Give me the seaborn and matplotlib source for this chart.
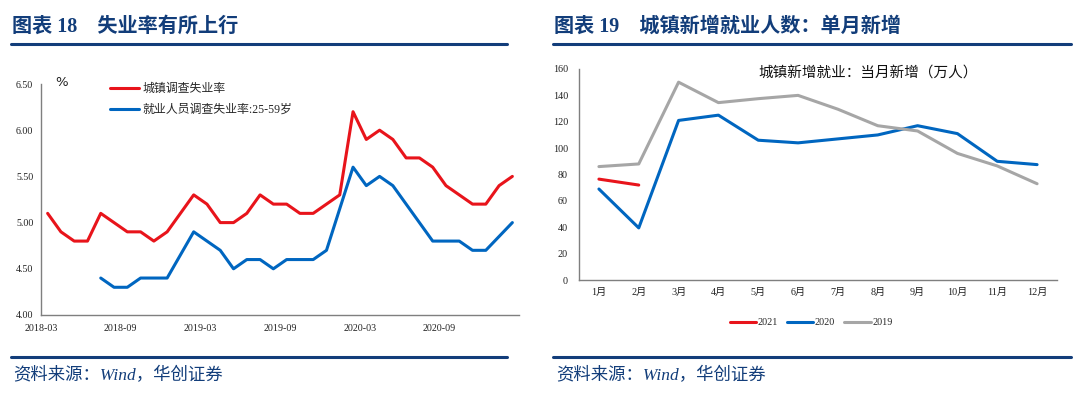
import numpy as np
import pandas as pd
import matplotlib
matplotlib.use('Agg')
import matplotlib.pyplot as plt
import seaborn as sns
from matplotlib.lines import Line2D
from matplotlib.font_manager import FontProperties

# ---------------- data ----------------
months_left = list(pd.period_range('2018-03', '2021-02', freq='M').strftime('%Y-%m'))
urban_rate = [5.1, 4.9, 4.8, 4.8, 5.1, 5.0, 4.9, 4.9, 4.8, 4.9, 5.1, 5.3,
              5.2, 5.0, 5.0, 5.1, 5.3, 5.2, 5.2, 5.1, 5.1, 5.2, 5.3, 6.2,
              5.9, 6.0, 5.9, 5.7, 5.7, 5.6, 5.4, 5.3, 5.2, 5.2, 5.4, 5.5]
rate_25_59 = [np.nan, np.nan, np.nan, np.nan,
              4.4, 4.3, 4.3, 4.4, 4.4, 4.4, 4.65, 4.9,
              4.8, 4.7, 4.5, 4.6, 4.6, 4.5, 4.6, 4.6, 4.6, 4.7, 5.15, 5.6,
              5.4, 5.5, 5.4, 5.2, 5.0, 4.8, 4.8, 4.8, 4.7, 4.7, 4.85, 5.0]
left_tick_labels = ['2018-03', '2018-09', '2019-03', '2019-09', '2020-03', '2020-09']
left_yticks = [4.0, 4.5, 5.0, 5.5, 6.0, 6.5]
left_series_names = ['城镇调查失业率', '就业人员调查失业率:25-59岁']

month_labels = ['1月', '2月', '3月', '4月', '5月', '6月',
                '7月', '8月', '9月', '10月', '11月', '12月']
jobs_2021 = [76.5, 72]
jobs_2020 = [69, 39.5, 121, 125, 106, 104, 107, 110, 117, 111, 90, 87.5]
jobs_2019 = [86, 88, 150, 134.5, 137.5, 140, 129.5, 117, 113, 96, 86.5, 73]
right_series_names = ['2021', '2020', '2019']
right_yticks = [0, 20, 40, 60, 80, 100, 120, 140, 160]

# ---------------- style ----------------
sns.set_style('white')
serif_cjk = ['Liberation Serif', 'Noto Sans CJK SC']
plt.rcParams['font.family'] = serif_cjk
plt.rcParams['axes.unicode_minus'] = False

RED = '#E8141B'
BLUE = '#0066C0'
GRAY = '#A6A6A6'
NAVY = '#123D7A'
SPINE = '#7F7F7F'

W, H = 1078, 394
fig = plt.figure(figsize=(W / 100, H / 100), dpi=100)


def fx(px):
    return px / W


def fy(py):
    return 1 - py / H


# ---------------- headers / footers ----------------
title_kw = dict(color=NAVY, fontsize=14.5, fontweight='bold', va='center', ha='left',
                family=serif_cjk)
fig.text(fx(12), fy(27), '图表 18　失业率有所上行', **title_kw)
fig.text(fx(554), fy(27), '图表 19　城镇新增就业人数：单月新增', **title_kw)
for x0, x1 in [(11, 507), (553, 1071)]:
    fig.add_artist(Line2D([fx(x0), fx(x1)], [fy(44), fy(44)], transform=fig.transFigure,
                          color=NAVY, lw=2.2))
    fig.add_artist(Line2D([fx(x0), fx(x1)], [fy(357), fy(357)], transform=fig.transFigure,
                          color=NAVY, lw=2.2))
foot_kw = dict(color=NAVY, fontsize=12.5, style='italic', va='center', ha='left',
               family=serif_cjk)
fig.text(fx(13), fy(376), '资料来源：Wind，华创证券', **foot_kw)
fig.text(fx(556), fy(376), '资料来源：Wind，华创证券', **foot_kw)

# ---------------- left chart ----------------
ax1 = fig.add_axes([fx(41), fy(315), fx(519) - fx(41), fy(84) - fy(315)])
df_left = pd.DataFrame({'idx': np.arange(len(months_left)), 'month': months_left,
                        'urban': urban_rate, 'age': rate_25_59})
sns.lineplot(data=df_left, x='idx', y='urban', ax=ax1, color=RED, lw=2.2,
             label=left_series_names[0])
sns.lineplot(data=df_left.dropna(), x='idx', y='age', ax=ax1, color=BLUE, lw=2.2,
             label=left_series_names[1])
ax1.set_xlim(-0.5, len(months_left) - 0.5)
ax1.set_ylim(left_yticks[0], left_yticks[-1])
xt = [months_left.index(m) - 0.5 for m in left_tick_labels] + [len(months_left) - 0.5]
ax1.set_xticks(xt)
ax1.set_xticklabels(left_tick_labels + [''])
ax1.set_yticks(left_yticks)
ax1.set_yticklabels([f'{v:.2f}' for v in left_yticks])
ax1.set_xlabel('')
ax1.set_ylabel('')
for s in ['top', 'right']:
    ax1.spines[s].set_visible(False)
for s in ['left', 'bottom']:
    ax1.spines[s].set_color(SPINE)
    ax1.spines[s].set_linewidth(1)
ax1.tick_params(axis='both', which='major', direction='out', length=2.5, width=0.8,
                color=SPINE, labelsize=7.2, labelcolor='#222222')
ax1.tick_params(axis='y', pad=3)
ax1.tick_params(axis='x', pad=4)
ax1.text(fx(61.5), fy(83), '%', transform=fig.transFigure, fontsize=9.5,
         ha='center', va='center', color='#222222', family=['DejaVu Sans'])
h1, l1 = ax1.get_legend_handles_labels()
ax1.legend(h1, l1, loc='upper left', bbox_to_anchor=(fx(110), fy(83)),
           bbox_transform=fig.transFigure, frameon=False, borderpad=0, borderaxespad=0,
           handlelength=2.4, handletextpad=0.3, labelspacing=0.75,
           prop=FontProperties(family=serif_cjk, size=8.6))

# ---------------- right chart ----------------
ax2 = fig.add_axes([fx(579), fy(280), fx(1057) - fx(579), fy(69) - fy(280)])
sns.lineplot(x=np.arange(len(jobs_2021)), y=jobs_2021, ax=ax2, color=RED, lw=2.2,
             label=right_series_names[0])
sns.lineplot(x=np.arange(len(jobs_2020)), y=jobs_2020, ax=ax2, color=BLUE, lw=2.2,
             label=right_series_names[1])
sns.lineplot(x=np.arange(len(jobs_2019)), y=jobs_2019, ax=ax2, color=GRAY, lw=2.2,
             label=right_series_names[2])
ax2.set_xlim(-0.5, len(month_labels) - 0.5)
ax2.set_ylim(right_yticks[0], right_yticks[-1])
ax2.set_xticks(np.arange(len(month_labels) + 1) - 0.5)
ax2.set_xticklabels([''] * (len(month_labels) + 1))
ax2.set_xticks(np.arange(len(month_labels)), minor=True)
ax2.set_xticklabels(month_labels, minor=True)
ax2.set_yticks(right_yticks)
for s in ['top', 'right']:
    ax2.spines[s].set_visible(False)
for s in ['left', 'bottom']:
    ax2.spines[s].set_color(SPINE)
    ax2.spines[s].set_linewidth(1)
ax2.tick_params(axis='both', which='major', direction='out', length=2.5, width=0.8,
                color=SPINE, labelsize=7.3, labelcolor='#222222')
ax2.tick_params(axis='y', pad=5.5)
ax2.tick_params(axis='x', which='minor', length=0, pad=5.5, labelsize=7.3,
                labelcolor='#222222')
ax2.text(fx(868), fy(73), '城镇新增就业：当月新增（万人）', transform=fig.transFigure,
         fontsize=10.5, ha='center', va='center', color='#111111', family=serif_cjk)
h2, l2 = ax2.get_legend_handles_labels()
ax2.legend(h2, l2, loc='center', bbox_to_anchor=(fx(811), fy(322.7)),
           bbox_transform=fig.transFigure, ncol=3, frameon=False, borderpad=0,
           borderaxespad=0, handlelength=2.6, handletextpad=0.15, columnspacing=0.9,
           prop=FontProperties(family=serif_cjk, size=7.3))

fig.savefig('out.png', dpi=100, facecolor='white')
